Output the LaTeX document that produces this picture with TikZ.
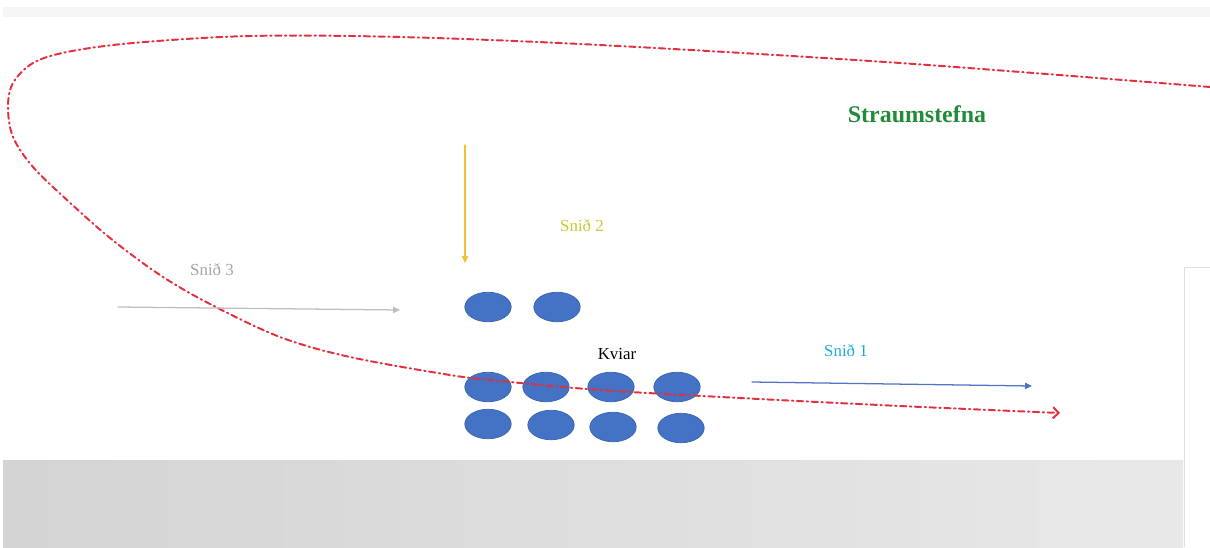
\documentclass[tikz,border=0pt]{standalone}
\usepackage{fontspec}
\setmainfont{Liberation Serif}
\usetikzlibrary{arrows.meta,shapes.geometric}

\definecolor{kviblue}{RGB}{68,114,196}
\definecolor{kviedge}{RGB}{58,100,178}
\definecolor{flowred}{RGB}{226,48,62}
\definecolor{straumgreen}{RGB}{34,139,58}
\definecolor{snidcyan}{RGB}{30,170,220}
\definecolor{snidblue}{RGB}{80,115,195}
\definecolor{snidyellow}{RGB}{242,193,46}
\definecolor{snidolive}{RGB}{200,200,50}
\definecolor{snidgray}{RGB}{166,166,166}
\definecolor{snidline}{RGB}{190,190,190}

\begin{document}
\begin{tikzpicture}[x=0.025cm,y=-0.025cm,line cap=round,line join=round,
    kvi/.style={ellipse,fill=kviblue,draw=kviedge,line width=0.5pt,
        minimum width=33pt,minimum height=21pt,inner sep=0pt},
    lbl/.style={inner sep=0pt,font=\fontsize{12}{14}\selectfont},
    snidarrow/.style={line width=0.9pt,-{Triangle[length=5pt,width=4.5pt]}}]
    \useasboundingbox (0,0) rectangle (1210,547);

    % Bakgrunnur
    \fill[black!4] (3,7) rectangle (1210,17);
    \shade[left color=black!17,right color=black!9,shading angle=90]
        (3,460) rectangle (1183,547);
    \draw[black!12,line width=0.6pt] (1184,547) -- (1184,267) -- (1210,267);

    % Kvíar
    \node[kvi] (k1) at (488,307) {};
    \node[kvi] (k2) at (557,307) {};
    \node[kvi] (k3) at (488,387) {};
    \node[kvi] (k4) at (546,387) {};
    \node[kvi] (k5) at (611,387) {};
    \node[kvi] (k6) at (677,387) {};
    \node[kvi] (k7) at (488,424) {};
    \node[kvi] (k8) at (551,425) {};
    \node[kvi] (k9) at (613,427) {};
    \node[kvi] (k10) at (681,428) {};
    \node[lbl] (kviar) at (617,354) {Kviar};

    % Straumstefna
    \node[inner sep=0pt,text=straumgreen,font=\fontsize{17}{20}\selectfont\bfseries]
        (straum) at (917,114) {Straumstefna};
    \draw[flowred,line width=1.4pt,dash pattern=on 4.5pt off 2.5pt on 1pt off 2.5pt,
        -{Straight Barb[length=4pt,width=8pt,line width=1.4pt]}]
        plot[smooth,tension=0.55] coordinates {(1210,87) (900,63) (600,45)
        (400,37) (250,36) (133,43) (67,52) (33,63) (13,83) (8,107) (13,137)
        (33,167) (67,200) (110,238) (160,275) (210,304) (280,337) (350,357)
        (450,375) (500,381) (600,390) (740,398) (900,406) (1060,413)};

    % Snið 1
    \coordinate (s1a) at (752,382);
    \coordinate (s1b) at (1032,386);
    \draw[snidarrow,snidblue] (s1a) -- (s1b);
    \node[lbl,text=snidcyan] (snid1) at (846,351) {Snið 1};

    % Snið 2
    \coordinate (s2a) at (465,145);
    \coordinate (s2b) at (465,263);
    \draw[snidarrow,snidyellow] (s2a) -- (s2b);
    \node[lbl,text=snidolive] (snid2) at (582,226) {Snið 2};

    % Snið 3
    \coordinate (s3a) at (118,307);
    \coordinate (s3b) at (400,310);
    \draw[snidarrow,snidline] (s3a) -- (s3b);
    \node[lbl,text=snidgray] (snid3) at (212,270) {Snið 3};

\end{tikzpicture}
\end{document}
